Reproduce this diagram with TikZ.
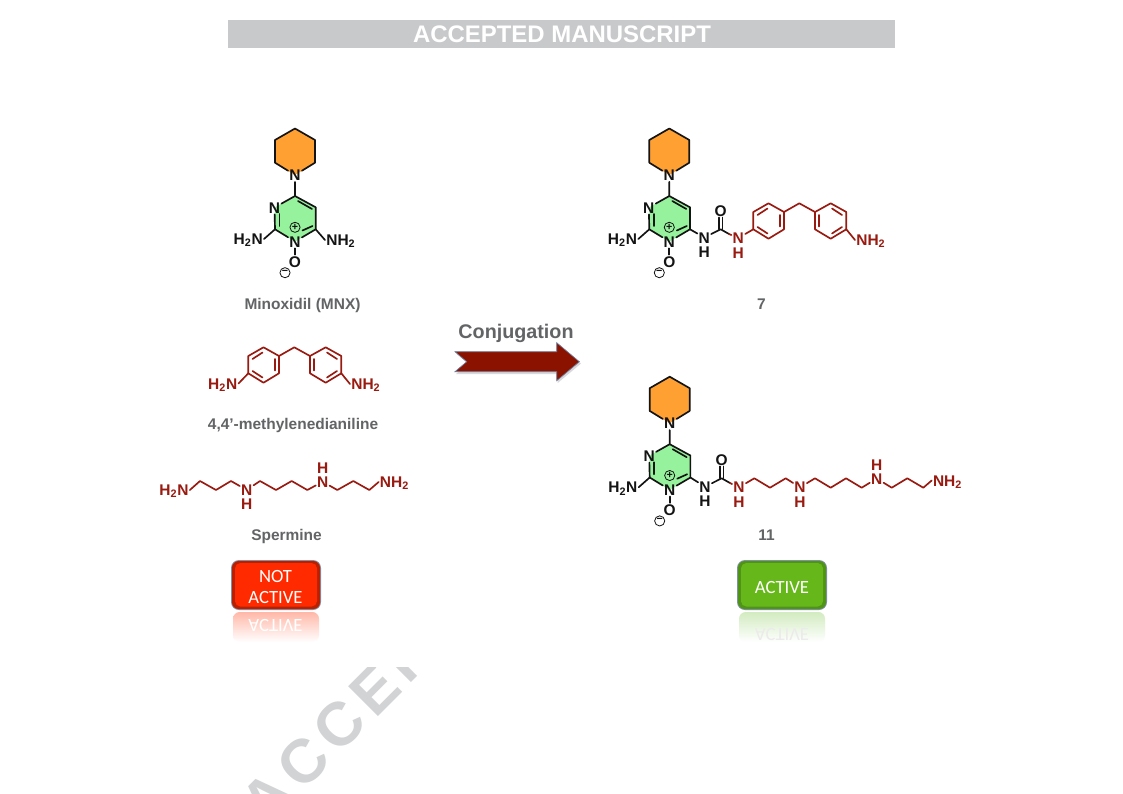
\documentclass[tikz,border=0pt]{standalone}
\usepackage{fontspec}
\setmainfont{Liberation Sans}
\newfontfamily\btnfont{Carlito}
\definecolor{ink}{HTML}{141414}
\definecolor{wine}{HTML}{981A10}
\definecolor{labelgrey}{HTML}{636466}
\definecolor{bargrey}{HTML}{C8C9CB}
\definecolor{markgrey}{HTML}{D2D3D5}
\definecolor{pipfill}{HTML}{FFA033}
\definecolor{pyrfill}{HTML}{96F29C}
\definecolor{arrowred}{HTML}{8C1200}
\definecolor{arrowedge}{HTML}{6C7C9C}
\definecolor{arrowshadow}{HTML}{D8D8DC}
\definecolor{btnedge}{HTML}{8090A8}
\definecolor{btnred}{HTML}{FF2A00}
\definecolor{btnreddark}{HTML}{B82000}
\definecolor{btnredpale}{HTML}{FFB8A8}
\definecolor{btngreen}{HTML}{66B81A}
\definecolor{btndark}{HTML}{4F9416}
\definecolor{btngreenpale}{HTML}{D2EBC0}
\tikzset{
  bond/.style={line width=1.25pt,draw=ink,line cap=round,line join=round},
  redbond/.style={line width=1.25pt,draw=wine,line cap=round,line join=round},
  atom/.style={font=\fontsize{11.6}{12}\selectfont\bfseries,text=ink,inner sep=.8pt,text height=8.3pt,text depth=0pt},
  redatom/.style={atom,text=wine},
  charge/.style={circle,draw=ink,line width=.6pt,minimum size=7.6pt,inner sep=0pt,font=\fontsize{8}{8}\selectfont\bfseries,text=ink},
  caplabel/.style={font=\fontsize{11.6}{12}\selectfont\bfseries,text=labelgrey,inner sep=0pt,text height=8.3pt,text depth=0pt},
  btntext/.style={font=\btnfont\fontsize{14}{15.7}\selectfont,text=white,align=center,inner sep=0pt}
}
\newcommand{\coremol}{%
  \fill[pipfill] (295,128.5)--(315,140)--(315,162.7)--(295,175)--(275,162.7)--(275,140)--cycle;
  \fill[pyrfill] (295,196)--(315.7,207.3)--(315.7,229.3)--(295,241.7)--(275,229.3)--(275,207.3)--cycle;
  \coordinate (p1) at (295,128.5); \coordinate (p2) at (315,140); \coordinate (p3) at (315,162.7);
  \coordinate (p5) at (275,162.7); \coordinate (p6) at (275,140);
  \node[atom] (np) at (295,175) {N};
  \coordinate (c4) at (295,196); \coordinate (c5) at (315.7,207.3); \coordinate (c6) at (315.7,229.3);
  \coordinate (c2) at (275,229.3);
  \node[atom] (n3) at (274.5,207.5) {N};
  \node[atom] (n1) at (295,241.5) {N};
  \node[atom] (o) at (295,261.5) {O};
  \node[atom,anchor=east] (h2n) at (264,239) {H\textsubscript{2}N};
  \node[charge] (plus) at (295,227.3) {+};
  \node[charge] (minus) at (285,272.7) {\raisebox{-.7pt}{−}};
  \draw[bond] (np)--(p3)--(p2)--(p1)--(p6)--(p5)--(np);
  \draw[bond] (np)--(c4)--(c5)--(c6)--(n1)--(c2)--(n3)--(c4);
  \draw[bond] (n1)--(o);
  \draw[bond] (c2)--(h2n.east);
  \coordinate (d1a) at (298,201); \coordinate (d1b) at (312,209);
  \coordinate (d2a) at (279.5,214); \coordinate (d2b) at (279.5,226);
  \coordinate (d3a) at (302.5,230.5); \coordinate (d3b) at (312.5,226);
  \draw[bond] (d1a)--(d1b);
  \draw[bond] (d2a)--(d2b);
  \draw[bond] (d3a)--(d3b);
}
\newcommand{\mdamol}{%
  \coordinate (a1) at (248.3,373.3); \coordinate (a2) at (248.3,356); \coordinate (a3) at (263.5,347.3);
  \coordinate (a4) at (279,356); \coordinate (a5) at (279,373.3); \coordinate (a6) at (263.5,382.7);
  \coordinate (ch) at (294.3,347.3);
  \coordinate (b1) at (310,356); \coordinate (b2) at (310,373.3); \coordinate (b3) at (325.7,382.7);
  \coordinate (b4) at (341.3,373.3); \coordinate (b5) at (341.3,356); \coordinate (b6) at (325.7,347.3);
  \draw[redbond] (a1)--(a2)--(a3)--(a4)--(a5)--(a6)--cycle;
  \draw[redbond] (a4)--(ch)--(b1);
  \draw[redbond] (b1)--(b2)--(b3)--(b4)--(b5)--(b6)--cycle;
  \coordinate (i1) at (275,359); \coordinate (i2) at (275,370.5);
  \coordinate (i3) at (252.5,359); \coordinate (i4) at (262.5,352.5);
  \coordinate (i5) at (252.5,371); \coordinate (i6) at (262.5,377.5);
  \draw[redbond] (i1)--(i2); \draw[redbond] (i3)--(i4); \draw[redbond] (i5)--(i6);
  \coordinate (j1) at (314,359); \coordinate (j2) at (314,370.5);
  \coordinate (j3) at (337,359); \coordinate (j4) at (327,352.5);
  \coordinate (j5) at (337,371); \coordinate (j6) at (327,377.5);
  \draw[redbond] (j1)--(j2); \draw[redbond] (j3)--(j4); \draw[redbond] (j5)--(j6);
  \node[redatom,anchor=west] (nh2) at (350,384) {NH\textsubscript{2}};
  \draw[redbond] (b4)--(nh2.west);
}
\begin{document}
\begin{tikzpicture}[x=0.75pt,y=-0.75pt]
\useasboundingbox (0,0) rectangle (1123,793);
\fill[white] (0,0) rectangle (1123,793);

% watermark
\begin{scope}
  \clip (150,667) rectangle (600,793);
  \node[rotate=45,anchor=base west,inner sep=0pt,text=markgrey,font=\fontsize{46}{50}\selectfont\bfseries\addfontfeatures{LetterSpace=11.5}] (mark) at (266,828.7) {ACCEP};
\end{scope}

% header
\fill[bargrey] (228,20) rectangle (895,48);
\node[text=white,inner sep=0pt,font=\fontsize{17.95}{20}\selectfont\bfseries] (title) at (562,34) {ACCEPTED MANUSCRIPT};

% minoxidil
\begin{scope}[name prefix=m-]
  \coremol
  \node[atom,anchor=west] (nh2) at (325,240) {NH\textsubscript{2}};
  \draw[bond] (c6)--(nh2.west);
\end{scope}
\node[caplabel] (capm) at (302.5,303.5) {Minoxidil (MNX)};

% MDA
\begin{scope}[name prefix=d-]
  \mdamol
  \node[redatom,anchor=east] (h2n) at (238.5,383.5) {H\textsubscript{2}N};
  \draw[redbond] (a1)--(h2n.east);
\end{scope}
\node[caplabel] (capd) at (293,423.5) {4,4'-methylenedianiline};

% spermine
\begin{scope}[name prefix=s-]
  \node[redatom] (h2n) at (174,490) {H\textsubscript{2}N};
  \node[redatom] (n1) at (246.7,490) {N};
  \node[redatom] (h1) at (246.7,504) {H};
  \node[redatom] (n2) at (322.7,481.7) {N};
  \node[redatom] (h2) at (322.7,467.7) {H};
  \node[redatom] (nh2) at (394.5,482) {NH\textsubscript{2}};
  \coordinate (c1) at (200,481); \coordinate (c2) at (216,490); \coordinate (c3) at (231,481);
  \coordinate (c4) at (260,481); \coordinate (c5) at (276,490); \coordinate (c6) at (291.7,481); \coordinate (c7) at (307.3,490);
  \coordinate (c8) at (337.3,490); \coordinate (c9) at (353.3,481); \coordinate (c10) at (369.3,490);
  \draw[redbond] (h2n.east)--(c1)--(c2)--(c3)--(n1)--(c4)--(c5)--(c6)--(c7)--(n2)--(c8)--(c9)--(c10)--(nh2.west);
\end{scope}
\node[caplabel] (caps) at (286.5,534.5) {Spermine};

% conjugation arrow
\node[inner sep=0pt,font=\fontsize{14.8}{17}\selectfont\bfseries,text=labelgrey,text height=10.6pt,text depth=0pt] (conj) at (516,331) {Conjugation};
\fill[arrowshadow] (456,353.5)--(557.7,353.5)--(557.7,344.5)--(581,363.5)--(557.7,383)--(557.7,374)--(456,374)--(468,363.5)--cycle;
\fill[arrowred,draw=arrowedge,line width=.5pt,line join=miter] (455,351.7)--(556.7,351.7)--(556.7,342.7)--(579.3,361.7)--(556.7,380.7)--(556.7,371.7)--(455,371.7)--(466.7,361.7)--cycle;

% compound 7
\begin{scope}[shift={(374.3,0)},name prefix=a-]
  \coremol
\end{scope}
\begin{scope}[shift={(505,-144)},name prefix=b-]
  \mdamol
\end{scope}
\node[atom] (u1n) at (704.3,237.5) {N};
\node[atom] (u1h) at (704.3,251.5) {H};
\coordinate (u1c) at (720.7,229.3);
\coordinate (u1m) at (729,234);
\node[atom] (u1o) at (720.7,210.7) {O};
\node[redatom] (u1r) at (738.3,238) {N};
\node[redatom] (u1s) at (738.3,252.5) {H};
\draw[bond] (a-c6)--(u1n);
\draw[bond] (u1n)--(u1c)--(u1m);
\draw[redbond] (u1m)--(u1r);
\draw[redbond] (u1r)--(b-a1);
\draw[bond] ([xshift=-1.3pt]u1o.south)--([xshift=-1.3pt]u1c);
\draw[bond] ([xshift=1.3pt]u1o.south)--([xshift=1.3pt]u1c);
\node[caplabel] (cap7) at (761.5,303.5) {7};

% compound 11
\begin{scope}[shift={(374.7,248.2)},name prefix=e-]
  \coremol
\end{scope}
\node[atom] (u2n) at (705,486.7) {N};
\node[atom] (u2h) at (705,500.7) {H};
\coordinate (u2c) at (721.7,478.3);
\coordinate (u2m) at (730,483);
\node[atom] (u2o) at (721.7,459.5) {O};
\node[redatom] (u2r) at (739,487.3) {N};
\node[redatom] (u2s) at (739,501.5) {H};
\node[redatom] (u2a) at (800,487.3) {N};
\node[redatom] (u2b) at (800,501.5) {H};
\node[redatom] (u2d) at (876.7,478.5) {N};
\node[redatom] (u2f) at (876.7,465) {H};
\node[redatom] (u2g) at (947.5,480.5) {NH\textsubscript{2}};
\coordinate (k1) at (754.3,478.3); \coordinate (k2) at (770,487.7); \coordinate (k3) at (785.7,478.3);
\coordinate (k4) at (815,478.3); \coordinate (k5) at (830.7,487.7); \coordinate (k6) at (846,478.3); \coordinate (k7) at (861.7,487.7);
\coordinate (k8) at (891.7,487.7); \coordinate (k9) at (907.3,478.3); \coordinate (k10) at (923.3,487.7);
\draw[bond] (e-c6)--(u2n);
\draw[bond] (u2n)--(u2c)--(u2m);
\draw[redbond] (u2m)--(u2r);
\draw[bond] ([xshift=-1.3pt]u2o.south)--([xshift=-1.3pt]u2c);
\draw[bond] ([xshift=1.3pt]u2o.south)--([xshift=1.3pt]u2c);
\draw[redbond] (u2r)--(k1)--(k2)--(k3)--(u2a)--(k4)--(k5)--(k6)--(k7)--(u2d)--(k8)--(k9)--(k10)--(u2g.west);
\node[caplabel] (cap11) at (766.5,534.5) {11};

% NOT ACTIVE button
\shade[top color=btnredpale,bottom color=white,rounded corners=5pt] (233,612) rectangle (319,642);
\begin{scope}
  \clip (225,612) rectangle (325,642);
  \node[btntext,yscale=-1,text=white] (rref) at (275.5,625) {ACTIVE};
\end{scope}
\fill[btnedge,rounded corners=6pt] (231,560) rectangle (321,610);
\fill[btnreddark,rounded corners=5pt] (232,561) rectangle (320,609);
\fill[btnred,rounded corners=4pt] (235,563) rectangle (317,606.5);
\node[btntext] (notactive) at (275.5,587) {NOT\\ACTIVE};

% ACTIVE button
\shade[top color=btngreenpale,bottom color=white,rounded corners=5pt] (739,612) rectangle (825,642);
\begin{scope}
  \clip (730,612) rectangle (835,642);
  \node[btntext,yscale=-1,text=black!8] (gref) at (782,634) {ACTIVE};
\end{scope}
\fill[btnedge,rounded corners=6pt] (737,560) rectangle (827,610);
\fill[btndark,rounded corners=5pt] (738,561) rectangle (826,609);
\fill[btngreen,rounded corners=4pt] (741,563) rectangle (823,606.5);
\node[btntext] (active) at (782,587.5) {ACTIVE};
\end{tikzpicture}
\end{document}
